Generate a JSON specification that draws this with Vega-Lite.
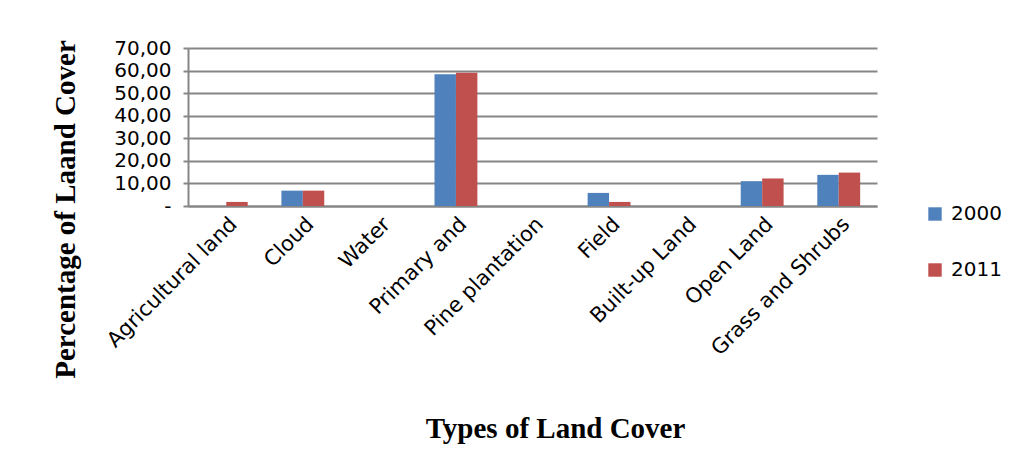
{
  "$schema": "https://vega.github.io/schema/vega-lite/v6.json",
  "autosize": {"type": "none"},
  "width": 689,
  "height": 158,
  "padding": {"left": 188, "top": 48, "right": 147, "bottom": 249},
  "background": "white",
  "data": {
    "values": [
      {"type": "Agricultural land", "year": "2000", "value": 0},
      {"type": "Agricultural land", "year": "2011", "value": 1.8},
      {"type": "Cloud", "year": "2000", "value": 6.8},
      {"type": "Cloud", "year": "2011", "value": 6.8},
      {"type": "Water", "year": "2000", "value": 0},
      {"type": "Water", "year": "2011", "value": 0},
      {"type": "Primary and", "year": "2000", "value": 58.4},
      {"type": "Primary and", "year": "2011", "value": 59.0},
      {"type": "Pine plantation", "year": "2000", "value": 0},
      {"type": "Pine plantation", "year": "2011", "value": 0},
      {"type": "Field", "year": "2000", "value": 5.8},
      {"type": "Field", "year": "2011", "value": 1.8},
      {"type": "Built-up Land", "year": "2000", "value": 0},
      {"type": "Built-up Land", "year": "2011", "value": 0},
      {"type": "Open Land", "year": "2000", "value": 11.0},
      {"type": "Open Land", "year": "2011", "value": 12.2},
      {"type": "Grass and Shrubs", "year": "2000", "value": 13.8},
      {"type": "Grass and Shrubs", "year": "2011", "value": 14.8}
    ]
  },
  "mark": {"type": "bar"},
  "encoding": {
    "x": {
      "field": "type",
      "type": "nominal",
      "sort": null,
      "scale": {"paddingInner": 0.44, "paddingOuter": 0.22},
      "axis": {
        "title": "Types of Land Cover",
        "titleFont": "Liberation Serif",
        "titleFontWeight": "bold",
        "titleFontSize": 29,
        "titleColor": "#000000",
        "titleX": 367,
        "titleY": 222,
        "titleBaseline": "middle",
        "labelAngle": -45,
        "labelFont": "DejaVu Sans",
        "labelFontSize": 21,
        "labelColor": "#000000",
        "labelPadding": 7,
        "ticks": false,
        "domainColor": "#868686",
        "domainWidth": 2,
        "labelLimit": 300
      }
    },
    "xOffset": {"field": "year", "type": "nominal", "sort": ["2000", "2011"]},
    "y": {
      "field": "value",
      "type": "quantitative",
      "scale": {"domain": [0, 70]},
      "axis": {
        "values": [0, 10, 20, 30, 40, 50, 60, 70],
        "labelExpr": "datum.value == 0 ? '-' : replace(format(datum.value, '.2f'), '.', ',')",
        "title": "Percentage of Laand Cover",
        "titleFont": "Liberation Serif",
        "titleFontWeight": "bold",
        "titleFontSize": 29,
        "titleColor": "#000000",
        "titleAngle": -90,
        "titleX": -123,
        "titleY": 161,
        "titleBaseline": "middle",
        "titleAlign": "center",
        "labelFont": "DejaVu Sans",
        "labelFontSize": 20,
        "labelColor": "#000000",
        "labelPadding": 12,
        "labelOverlap": false,
        "labelBound": false,
        "tickColor": "#868686",
        "tickSize": 5,
        "tickWidth": 2,
        "domainColor": "#868686",
        "domainWidth": 2,
        "grid": true,
        "gridColor": "#868686",
        "gridWidth": 2
      }
    },
    "color": {
      "field": "year",
      "type": "nominal",
      "scale": {"domain": ["2000", "2011"], "range": ["#4F81BD", "#C0504D"]},
      "legend": {
        "title": null,
        "orient": "none",
        "legendX": 737,
        "legendY": 156,
        "symbolType": "square",
        "symbolSize": 180,
        "symbolStrokeWidth": 0,
        "labelFont": "DejaVu Sans",
        "labelFontSize": 20,
        "labelColor": "#000000",
        "rowPadding": 36,
        "labelOffset": 6
      }
    }
  },
  "config": {"view": {"stroke": null}}
}
